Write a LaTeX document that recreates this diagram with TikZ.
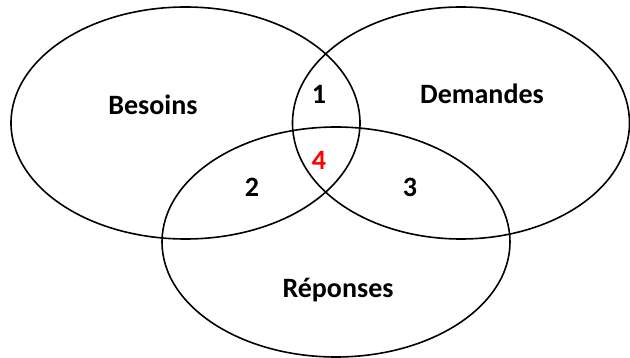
\documentclass[tikz,border=0pt]{standalone}
\usepackage{fontspec}
\setmainfont{Carlito}
\tikzset{
  set/.style={draw=black, line width=1.6pt},
  lbl/.style={font=\fontsize{28}{32}\selectfont\bfseries, text=black, inner sep=0pt},
}
\begin{document}
\begin{tikzpicture}[x=1pt,y=-1pt]
\useasboundingbox (0,0) rectangle (630,358);
\fill[white] (0,0) rectangle (630,358);
\draw[set] (185.5,123) ellipse [x radius=174.5, y radius=116];
\draw[set] (461,123) ellipse [x radius=168.5, y radius=116];
\draw[set] (336,242) ellipse [x radius=174, y radius=115];
\node[lbl] (besoins) at (153,105) {Besoins};
\node[lbl] (demandes) at (482,94) {Demandes};
\node[lbl] (reponses) at (338,290) {Réponses};
\node[lbl] (one) at (319,94) {1};
\node[lbl] (two) at (252,187) {2};
\node[lbl] (three) at (410,187) {3};
\node[lbl, text={rgb,255:red,255;green,0;blue,0}] (four) at (319,160) {4};
\end{tikzpicture}
\end{document}
